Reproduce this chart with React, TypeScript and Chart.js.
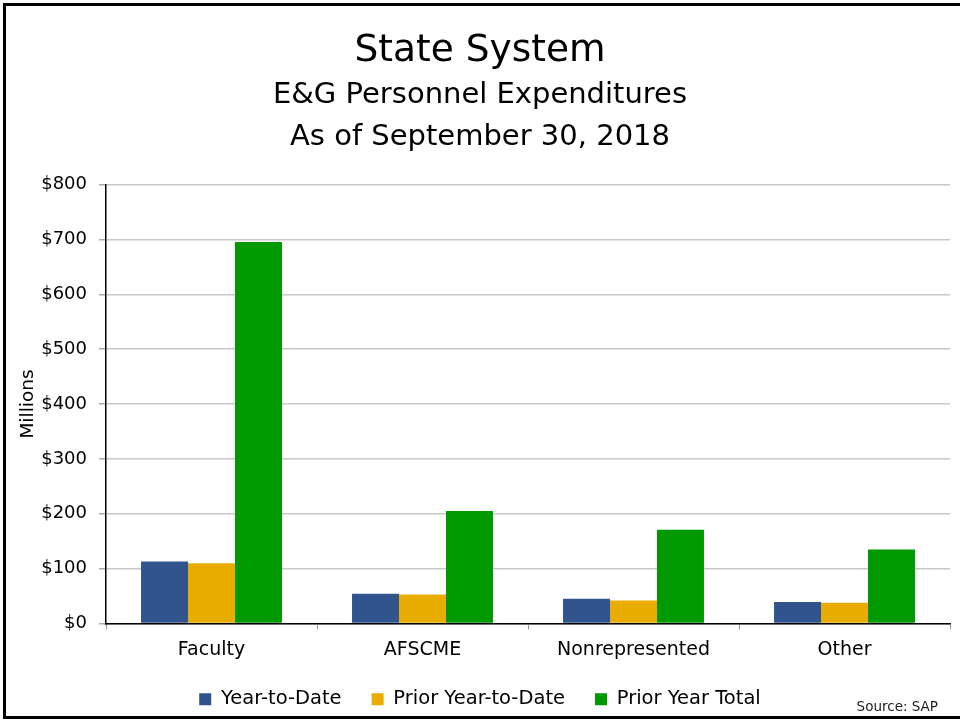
import React, { useEffect, useRef } from "react";
import { Chart, registerables } from "chart.js";

Chart.register(...registerables);

const categories = ["Faculty", "AFSCME", "Nonrepresented", "Other"];
const seriesNames = ["Year-to-Date", "Prior Year-to-Date", "Prior Year Total"];
const yearToDate = [113, 54, 45, 39];
const priorYearToDate = [110, 53, 42, 38];
const priorYearTotal = [695, 205, 171, 135];
const yTickMin = 0;
const yTickMax = 800;
const yTickStep = 100;
const titleText = "State System";
const subtitleLines = ["E&G Personnel Expenditures", "As of September 30, 2018"];
const yAxisTitle = "Millions";
const sourceText = "Source: SAP";

const FONT = "'DejaVu Sans', sans-serif";

const sourcePlugin = {
  id: "sourceNote",
  afterDraw(chart: any) {
    const ctx = chart.ctx;
    ctx.save();
    ctx.font = `13.5px ${FONT}`;
    ctx.fillStyle = "#222";
    ctx.textAlign = "right";
    ctx.textBaseline = "alphabetic";
    ctx.fillText(sourceText, 938, 711);
    ctx.restore();
  },
};

export default function App() {
  const ref = useRef<HTMLCanvasElement | null>(null);

  useEffect(() => {
    document.body.style.margin = "0";
    const canvas = ref.current;
    if (!canvas) return;
    const chart = new Chart(canvas, {
      type: "bar",
      data: {
        labels: categories,
        datasets: [
          { label: seriesNames[0], data: yearToDate, backgroundColor: "#31548f" },
          { label: seriesNames[1], data: priorYearToDate, backgroundColor: "#e9ad02" },
          { label: seriesNames[2], data: priorYearTotal, backgroundColor: "#019901" },
        ],
      },
      options: {
        responsive: false,
        animation: false,
        devicePixelRatio: 1,
        layout: { padding: { left: 10, right: 10, top: 0, bottom: 2 } },
        datasets: {
          bar: { categoryPercentage: 0.668, barPercentage: 1 },
        },
        plugins: {
          title: {
            display: true,
            text: titleText,
            color: "#000",
            font: { family: FONT, size: 37.5, weight: "normal", lineHeight: 1.2 },
            padding: { top: 28.5, bottom: 1 },
          },
          subtitle: {
            display: true,
            text: subtitleLines,
            color: "#000",
            font: { family: FONT, size: 29, weight: "normal", lineHeight: 1.4483 },
            padding: { top: 0, bottom: 26 },
          },
          legend: {
            position: "bottom",
            labels: {
              color: "#000",
              font: { family: FONT, size: 19.5 },
              boxWidth: 12,
              boxHeight: 12,
              padding: 30,
            },
          },
          tooltip: { enabled: false },
        },
        scales: {
          x: {
            grid: {
              display: true,
              drawOnChartArea: false,
              offset: true,
              tickLength: 6,
              tickColor: "#999",
            },
            border: { color: "#000", width: 1.5 },
            ticks: {
              color: "#000",
              font: { family: FONT, size: 19 },
              padding: 9,
            },
            afterFit: (scale: any) => {
              scale.height = 36;
            },
          },
          y: {
            min: yTickMin,
            max: yTickMax,
            ticks: {
              stepSize: yTickStep,
              color: "#000",
              font: { family: FONT, size: 18 },
              padding: 12,
              callback: (v: any) => "$" + v,
            },
            grid: { color: "#c8c8c8", tickColor: "#aaa", tickLength: 7, lineWidth: 1.5 },
            border: { color: "#000", width: 1.5 },
            title: {
              display: true,
              text: yAxisTitle,
              color: "#000",
              font: { family: FONT, size: 18.5 },
              padding: { top: 7, bottom: 0 },
            },
            afterFit: (scale: any) => {
              scale.width = 96;
            },
          },
        },
      },
      plugins: [sourcePlugin],
    });
    return () => chart.destroy();
  }, []);

  return (
    <div
      style={{
        position: "fixed",
        left: 0,
        top: 0,
        width: 960,
        height: 721,
        background: "#fff",
        overflow: "hidden",
      }}
    >
      <canvas ref={ref} width={960} height={721} style={{ position: "absolute", left: 0, top: 0 }} />
      <div
        style={{
          position: "absolute",
          left: 3,
          top: 3,
          width: 990,
          height: 716,
          boxSizing: "border-box",
          border: "3px solid #000",
          pointerEvents: "none",
        }}
      />
    </div>
  );
}
